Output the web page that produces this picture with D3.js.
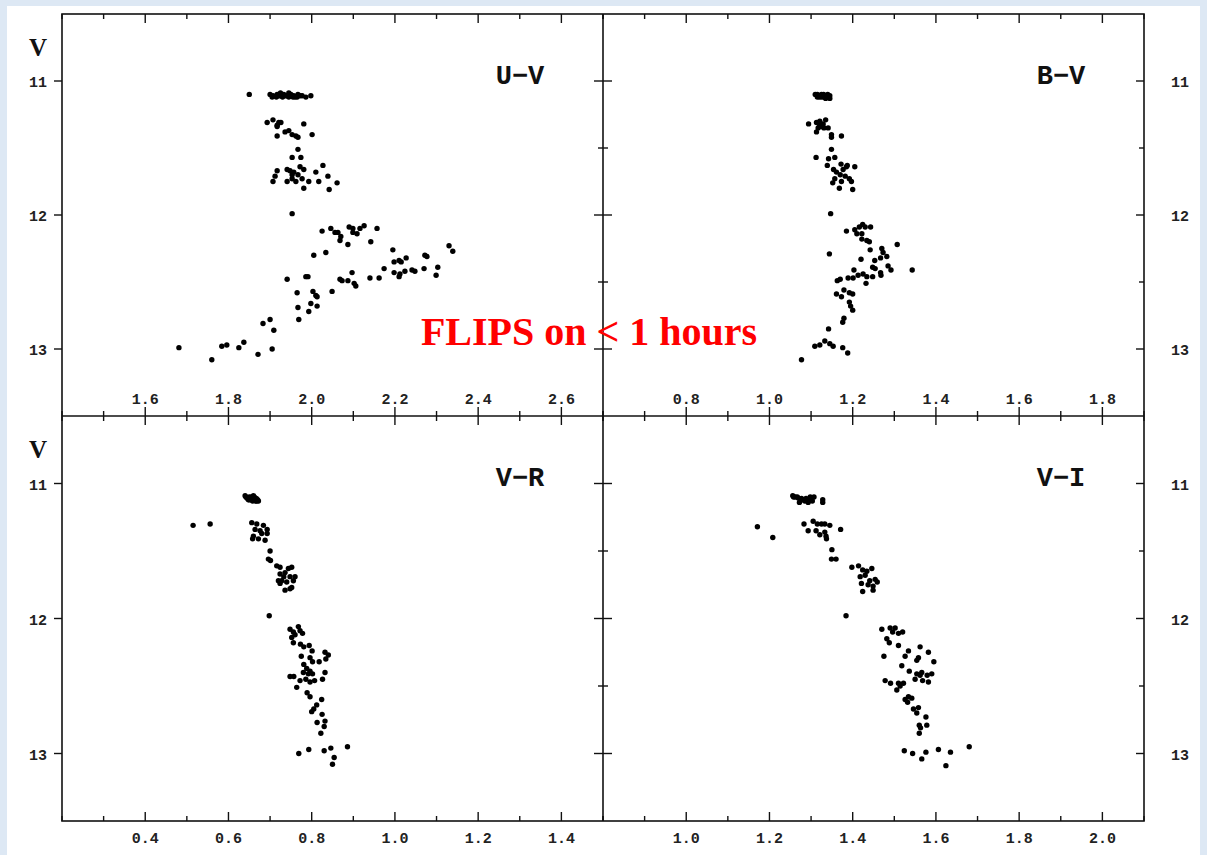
<!DOCTYPE html>
<html>
<head>
<meta charset="utf-8">
<script src="https://cdn.jsdelivr.net/npm/d3@7"></script>
<style>
  body { margin: 0; background: #dde8f4; }
  svg { display: block; }
  .tickLabel { font-family: "Liberation Mono", "DejaVu Sans Mono", monospace; font-size: 15px; font-weight: bold; fill: #222; }
  .panelLabel { font-family: "Liberation Mono", "DejaVu Sans Mono", monospace; font-size: 27px; font-weight: bold; fill: #111; }
  .axisV { font-family: "Liberation Serif", serif; font-size: 25px; font-weight: bold; fill: #111; }
  .flips { font-family: "Liberation Serif", "Times New Roman", serif; font-size: 40px; font-weight: bold; fill: #ff0000; }
</style>
</head>
<body>
<svg id="chart" width="1207" height="855"></svg>
<script>
// colour index, V magnitude
var uvPoints = [
  [1.85,11.10],
  [1.90,11.10],[1.907,11.11],[1.917,11.10],[1.924,11.11],[1.933,11.10],[1.941,11.11],[1.95,11.10],[1.957,11.11],
  [1.967,11.10],[1.977,11.11],[1.986,11.12],[1.998,11.11],[1.93,11.12],[1.945,11.12],[1.96,11.12],
  [1.905,11.12],[1.915,11.12],[1.925,11.09],[1.937,11.11],[1.955,11.12],[1.965,11.12],[1.972,11.11],[1.945,11.09],[1.92,11.11],
  [1.893,11.31],[1.907,11.29],[1.917,11.33],[1.926,11.31],[1.917,11.41],[1.936,11.38],[1.945,11.37],[1.953,11.40],
  [1.962,11.41],[1.967,11.42],[1.981,11.32],[2.001,11.40],[1.921,11.31],[1.917,11.34],
  [1.967,11.51],[1.953,11.57],[1.974,11.57],[2.027,11.63],[1.917,11.67],[1.912,11.71],[1.907,11.75],[1.941,11.66],
  [1.948,11.67],[1.957,11.68],[1.972,11.64],[1.981,11.66],[1.953,11.73],[1.962,11.75],[1.941,11.75],[1.977,11.73],
  [1.993,11.75],[2.010,11.68],[2.017,11.75],[2.039,11.71],[2.061,11.76],[2.042,11.81],[1.981,11.80],[1.953,11.70],[1.967,11.70],
  [1.953,11.99],
  [2.025,12.12],[2.046,12.10],[2.056,12.13],[2.063,12.13],[2.068,12.19],[2.070,12.16],[2.090,12.09],[2.099,12.10],
  [2.099,12.13],[2.109,12.14],[2.116,12.10],[2.126,12.08],[2.087,12.22],[2.142,12.20],[2.157,12.10],
  [2.005,12.30],[2.034,12.28],[2.195,12.26],[2.198,12.35],[2.210,12.34],[2.215,12.35],[2.227,12.32],[2.330,12.23],
  [2.339,12.27],[2.272,12.30],[2.277,12.31],
  [2.174,12.40],[2.198,12.43],[2.210,12.46],[2.212,12.44],[2.224,12.42],[2.241,12.41],[2.248,12.42],[2.270,12.40],
  [2.303,12.39],[2.299,12.45],
  [1.941,12.48],[1.986,12.46],[1.991,12.46],[2.068,12.48],[2.073,12.49],[2.087,12.49],[2.097,12.43],[2.102,12.51],
  [2.106,12.53],[2.140,12.47],[2.162,12.47],
  [1.965,12.58],[2.003,12.57],[2.010,12.60],[2.013,12.61],[2.049,12.57],[1.967,12.69],[1.998,12.66],[1.993,12.72],
  [2.013,12.68],[1.969,12.78],
  [1.900,12.78],[1.883,12.81],[1.909,12.86],
  [1.681,12.99],[1.760,13.08],[1.784,12.98],[1.796,12.97],[1.825,12.99],[1.837,12.95],[1.871,13.04],[1.905,13.00]
];

var bvPoints = [
  [1.11,11.10],[1.115,11.12],[1.12,11.11],[1.125,11.10],[1.13,11.12],[1.135,11.11],[1.14,11.12],[1.145,11.13],[1.12,11.12],[1.14,11.10],
  [1.115,11.10],[1.125,11.12],[1.13,11.10],[1.135,11.13],[1.14,11.11],[1.145,11.11],[1.118,11.11],[1.128,11.11],[1.138,11.12],
  [1.094,11.32],[1.113,11.31],[1.121,11.30],[1.129,11.32],[1.135,11.29],[1.117,11.35],[1.113,11.38],[1.125,11.34],
  [1.141,11.35],[1.149,11.40],[1.149,11.42],[1.173,11.41],[1.121,11.33],[1.131,11.35],
  [1.149,11.51],[1.112,11.57],[1.142,11.58],[1.157,11.57],
  [1.139,11.63],[1.154,11.66],[1.172,11.62],[1.187,11.63],[1.205,11.64],[1.161,11.68],[1.177,11.66],[1.170,11.70],
  [1.182,11.71],[1.157,11.73],[1.192,11.73],[1.197,11.75],[1.152,11.76],[1.173,11.75],[1.168,11.80],[1.200,11.81],[1.185,11.64],
  [1.147,11.99],
  [1.185,12.12],[1.205,12.11],[1.216,12.09],[1.224,12.07],[1.230,12.09],[1.243,12.09],[1.210,12.14],[1.222,12.14],
  [1.222,12.18],[1.234,12.19],[1.240,12.20],[1.242,12.26],[1.307,12.22],[1.144,12.29],
  [1.270,12.25],[1.273,12.28],[1.282,12.31],[1.267,12.32],[1.253,12.34],[1.220,12.33],[1.343,12.41],[1.285,12.38],
  [1.292,12.41],[1.248,12.39],[1.254,12.40],[1.267,12.43],[1.268,12.45],[1.203,12.41],
  [1.189,12.47],[1.201,12.47],[1.213,12.45],[1.225,12.44],[1.234,12.46],[1.248,12.46],[1.232,12.51],[1.163,12.49],[1.170,12.48],
  [1.179,12.56],[1.192,12.58],[1.200,12.59],[1.161,12.59],[1.173,12.61],[1.192,12.65],[1.195,12.68],[1.200,12.71],
  [1.179,12.77],[1.176,12.80],[1.142,12.85],
  [1.133,12.94],[1.145,12.96],[1.153,12.98],[1.109,12.98],[1.121,12.97],[1.176,12.99],[1.188,13.03],[1.077,13.08]
];

var vrPoints = [
  [0.640,11.09],[0.645,11.11],[0.650,11.10],[0.655,11.12],[0.660,11.11],[0.665,11.13],[0.670,11.12],[0.650,11.12],[0.660,11.09],[0.668,11.13],
  [0.642,11.10],[0.648,11.12],[0.652,11.11],[0.658,11.13],[0.662,11.10],[0.667,11.11],[0.672,11.13],[0.655,11.10],
  [0.515,11.31],[0.556,11.30],
  [0.656,11.29],[0.668,11.30],[0.684,11.31],[0.693,11.34],[0.664,11.34],[0.676,11.35],[0.660,11.39],[0.680,11.37],
  [0.658,11.41],[0.672,11.41],[0.688,11.42],[0.693,11.37],
  [0.700,11.50],[0.696,11.56],[0.701,11.57],
  [0.716,11.61],[0.724,11.62],[0.744,11.63],[0.752,11.62],[0.724,11.67],[0.736,11.66],[0.733,11.69],[0.748,11.69],
  [0.760,11.69],[0.720,11.72],[0.728,11.72],[0.756,11.72],[0.724,11.74],[0.740,11.73],[0.748,11.78],[0.736,11.79],[0.752,11.77],
  [0.698,11.98],
  [0.748,12.08],[0.756,12.10],[0.768,12.06],[0.772,12.09],[0.778,12.11],[0.752,12.14],[0.760,12.12],[0.756,12.18],
  [0.773,12.19],[0.794,12.20],[0.781,12.21],[0.801,12.24],[0.832,12.25],[0.840,12.27],[0.834,12.30],[0.775,12.28],
  [0.796,12.29],[0.802,12.32],[0.818,12.32],[0.781,12.34],[0.788,12.37],[0.796,12.39],[0.780,12.40],[0.792,12.41],
  [0.802,12.41],[0.832,12.40],[0.748,12.43],[0.757,12.43],[0.772,12.46],[0.786,12.45],[0.796,12.47],[0.807,12.46],
  [0.826,12.45],[0.764,12.51],[0.789,12.55],[0.796,12.58],[0.824,12.60],[0.812,12.64],[0.805,12.67],[0.800,12.69],
  [0.825,12.71],[0.813,12.77],[0.832,12.76],[0.830,12.80],[0.822,12.85],
  [0.769,13.00],[0.793,12.97],[0.830,12.98],[0.846,12.96],[0.886,12.95],[0.854,13.03],[0.850,13.08]
];

var viPoints = [
  [1.256,11.09],[1.267,11.10],[1.277,11.11],[1.285,11.13],[1.293,11.14],[1.301,11.11],[1.307,11.10],[1.272,11.14],
  [1.328,11.12],[1.328,11.14],[1.262,11.10],[1.290,11.12],
  [1.258,11.10],[1.270,11.11],[1.280,11.12],[1.288,11.11],[1.296,11.12],[1.303,11.13],[1.298,11.10],
  [1.171,11.32],[1.208,11.40],
  [1.283,11.30],[1.293,11.35],[1.305,11.28],[1.315,11.30],[1.325,11.30],[1.333,11.30],[1.345,11.31],[1.371,11.34],
  [1.312,11.35],[1.321,11.38],[1.333,11.36],[1.336,11.39],[1.337,11.41],
  [1.350,11.49],[1.349,11.56],[1.360,11.56],
  [1.398,11.62],[1.414,11.61],[1.424,11.64],[1.434,11.65],[1.446,11.63],[1.418,11.69],[1.430,11.68],[1.441,11.72],
  [1.454,11.71],[1.459,11.73],[1.421,11.74],[1.437,11.75],[1.449,11.76],[1.424,11.80],[1.449,11.79],
  [1.384,11.98],
  [1.470,12.08],[1.482,12.15],[1.490,12.07],[1.502,12.07],[1.496,12.10],[1.510,12.11],[1.520,12.10],[1.488,12.18],
  [1.510,12.20],[1.475,12.28],[1.534,12.24],[1.562,12.21],[1.582,12.25],[1.526,12.28],[1.558,12.29],[1.554,12.31],
  [1.595,12.32],[1.518,12.35],[1.536,12.39],[1.554,12.41],[1.566,12.40],[1.562,12.42],[1.579,12.42],[1.590,12.41],
  [1.550,12.45],[1.568,12.46],[1.582,12.47],[1.478,12.46],[1.491,12.48],[1.510,12.48],[1.522,12.48],[1.514,12.50],
  [1.506,12.53],[1.526,12.60],[1.534,12.58],[1.542,12.59],[1.532,12.62],[1.546,12.67],[1.558,12.66],[1.554,12.70],
  [1.576,12.73],[1.560,12.79],[1.563,12.81],[1.578,12.79],[1.560,12.85],
  [1.524,12.98],[1.544,13.00],[1.576,12.99],[1.606,12.97],[1.635,12.99],[1.680,12.95],[1.566,13.04],[1.624,13.09]
];

var panelNames = ["U\u2212V", "B\u2212V", "V\u2212R", "V\u2212I"];
var xDomains = [[1.4, 2.7], [0.6, 1.9], [0.2, 1.5], [0.8, 2.1]];
var xTickLabels = [
  [1.6, 1.8, 2.0, 2.2, 2.4, 2.6],
  [0.8, 1.0, 1.2, 1.4, 1.6, 1.8],
  [0.4, 0.6, 0.8, 1.0, 1.2, 1.4],
  [1.0, 1.2, 1.4, 1.6, 1.8, 2.0]
];
var vDomain = [10.5, 13.5];
var vTickLabels = [11, 12, 13];
var vMinorTicks = [11, 11.5, 12, 12.5, 13];

function draw() {
  var svg = d3.select("#chart");

  svg.append("rect").attr("x", 0).attr("y", 0).attr("width", 1207).attr("height", 855).attr("fill", "#dde8f4");
  svg.append("rect").attr("x", 7).attr("y", 6).attr("width", 1193).attr("height", 849).attr("fill", "#ffffff");

  var frameLeft = 62, frameMid = 603, frameRight = 1144, frameTop = 14, frameMidY = 416, frameBottom = 821;

  var panels = [
    {name: panelNames[0], data: uvPoints, x0: frameLeft, x1: frameMid, y0: frameTop, y1: frameMidY, col: 0, row: 0},
    {name: panelNames[1], data: bvPoints, x0: frameMid, x1: frameRight, y0: frameTop, y1: frameMidY, col: 1, row: 0},
    {name: panelNames[2], data: vrPoints, x0: frameLeft, x1: frameMid, y0: frameMidY, y1: frameBottom, col: 0, row: 1},
    {name: panelNames[3], data: viPoints, x0: frameMid, x1: frameRight, y0: frameMidY, y1: frameBottom, col: 1, row: 1}
  ];

  panels.forEach(function (p, i) {
    var x = d3.scaleLinear().domain(xDomains[i]).range([p.x0, p.x1]);
    var y = d3.scaleLinear().domain(vDomain).range([p.y0, p.y1]);
    var g = svg.append("g");

    // x ticks every 0.1, longer at labelled values
    var minor = x.ticks(13);
    var major = xTickLabels[i];
    minor.forEach(function (t) {
      var isMajor = major.some(function (m) { return Math.abs(m - t) < 1e-6; });
      var len = isMajor ? 9 : 5;
      if (p.row === 0) {
        g.append("line").attr("x1", x(t)).attr("x2", x(t)).attr("y1", p.y0).attr("y2", p.y0 + len)
          .attr("stroke", "#111").attr("stroke-width", 1.4);
        g.append("line").attr("x1", x(t)).attr("x2", x(t)).attr("y1", p.y1 - len).attr("y2", p.y1 + len)
          .attr("stroke", "#111").attr("stroke-width", 1.4);
      } else {
        g.append("line").attr("x1", x(t)).attr("x2", x(t)).attr("y1", p.y1 - len).attr("y2", p.y1)
          .attr("stroke", "#111").attr("stroke-width", 1.4);
      }
    });

    g.selectAll(".xlab").data(major).enter().append("text")
      .attr("class", "tickLabel")
      .attr("x", function (d) { return x(d); })
      .attr("y", p.row === 0 ? p.y1 - 12 : p.y1 + 22)
      .attr("text-anchor", "middle")
      .text(function (d) { return d.toFixed(1); });

    // y ticks
    vMinorTicks.forEach(function (t) {
      var isMajor = vTickLabels.indexOf(t) >= 0;
      var len = isMajor ? 9 : 5;
      if (p.col === 0) {
        if (isMajor) {
          g.append("line").attr("x1", p.x0 - 8).attr("x2", p.x0).attr("y1", y(t)).attr("y2", y(t))
            .attr("stroke", "#111").attr("stroke-width", 1.4);
        }
        g.append("line").attr("x1", p.x1 - len).attr("x2", p.x1 + len).attr("y1", y(t)).attr("y2", y(t))
          .attr("stroke", "#111").attr("stroke-width", 1.4);
      } else {
        g.append("line").attr("x1", p.x1 - (isMajor ? 8 : 5)).attr("x2", p.x1).attr("y1", y(t)).attr("y2", y(t))
          .attr("stroke", "#111").attr("stroke-width", 1.4);
      }
    });

    g.selectAll(".ylab").data(vTickLabels).enter().append("text")
      .attr("class", "tickLabel")
      .attr("x", p.col === 0 ? 38 : 1180)
      .attr("y", function (d) { return y(d) + 6; })
      .attr("text-anchor", "middle")
      .text(function (d) { return d; });

    if (p.col === 0) {
      g.append("text").attr("class", "axisV")
        .attr("x", 38).attr("y", p.y0 + 42)
        .attr("text-anchor", "middle")
        .text("V");
    }

    g.append("text").attr("class", "panelLabel")
      .attr("x", p.x1 - 83).attr("y", p.y0 + 70)
      .attr("text-anchor", "middle")
      .text(p.name);

    g.selectAll(".dot").data(p.data).enter().append("circle")
      .attr("cx", function (d) { return x(d[0]); })
      .attr("cy", function (d) { return y(d[1]); })
      .attr("r", 2.7)
      .attr("fill", "#000");
  });

  // frame lines
  var frame = svg.append("g").attr("stroke", "#111").attr("stroke-width", 1.6).attr("fill", "none");
  frame.append("rect").attr("x", frameLeft).attr("y", frameTop)
    .attr("width", frameRight - frameLeft).attr("height", frameBottom - frameTop);
  frame.append("line").attr("x1", frameMid).attr("x2", frameMid).attr("y1", frameTop).attr("y2", frameBottom);
  frame.append("line").attr("x1", frameLeft).attr("x2", frameRight).attr("y1", frameMidY).attr("y2", frameMidY);

  svg.append("text").attr("class", "flips")
    .attr("x", 589).attr("y", 345)
    .attr("text-anchor", "middle")
    .text("FLIPS on < 1 hours");
}

draw();
</script>
</body>
</html>
